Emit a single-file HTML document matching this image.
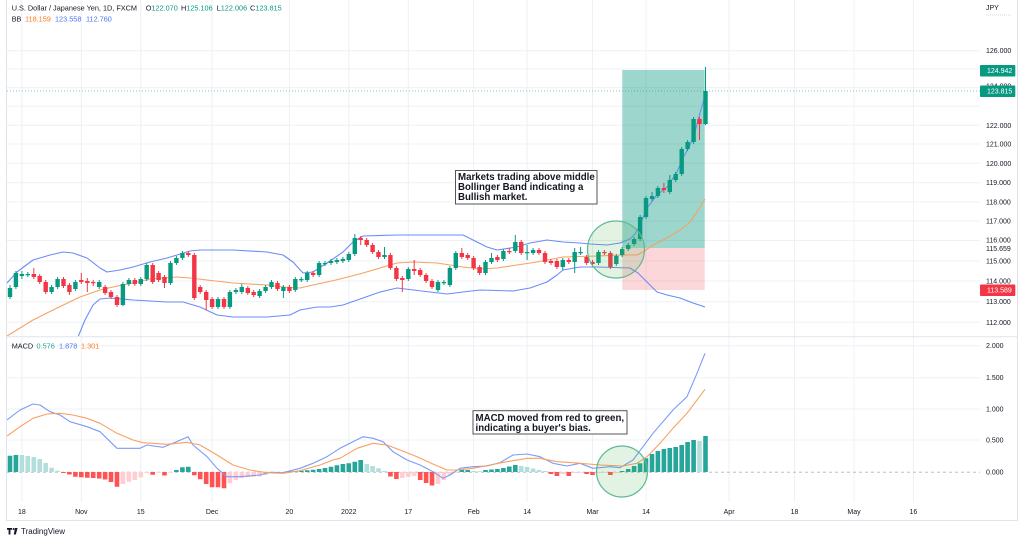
<!DOCTYPE html>
<html><head><meta charset="utf-8"><style>
html,body{margin:0;padding:0;background:#fff;}
svg{display:block;}
text{font-family:"Liberation Sans",sans-serif;}
</style></head><body>
<svg width="1024" height="542" viewBox="0 0 1024 542" xmlns="http://www.w3.org/2000/svg">
<rect x="0" y="0" width="1024" height="542" fill="#fff"/>
<defs>
<clipPath id="pp"><rect x="7" y="0" width="973" height="336"/></clipPath>
<clipPath id="mp"><rect x="7" y="337" width="973" height="165"/></clipPath>
</defs>
<!-- grid -->
<g stroke="#eef0f5" stroke-width="1" fill="none">
<path d="M21.9 0V502M81.3 0V502M140.8 0V502M212.1 0V502M289.4 0V502M348.8 0V502M408.3 0V502M473.6 0V502M527.1 0V502M592.5 0V502M646 0V502M729.1 0V502M794.5 0V502M854 0V502M913.4 0V502"/>
<path d="M7 50.7H980M7 69H980M7 87.6H980M7 106.3H980M7 125.3H980M7 144H980M7 163.3H980M7 182.7H980M7 202H980M7 221H980M7 240.5H980M7 261H980M7 281H980M7 301.7H980M7 322.3H980"/>
<path d="M7 345.7H980M7 377.7H980M7 409H980M7 440H980"/>
</g>
<!-- frame -->
<g stroke="#e0e3eb" stroke-width="1" fill="none">
<path d="M6.5 0V520.5M1017.5 0V520.5M6 520.5H1018M6 336.8H1018"/>
</g>
<!-- zero line -->
<path d="M7 472.2H980" stroke="#b2b5be" stroke-width="0.8" stroke-dasharray="3 3"/>
<!-- current price dotted line -->
<path d="M7 91H980" stroke="#26a69a" stroke-width="0.8" stroke-dasharray="1 2" opacity="0.8"/>

<!-- long position tool -->
<rect x="622.3" y="70" width="82.4" height="178" fill="rgba(8,153,129,0.4)"/>
<rect x="622.3" y="248" width="82.4" height="42" fill="rgba(242,54,69,0.2)"/>

<g clip-path="url(#pp)" fill="none" stroke-linejoin="round">
<polyline stroke="#6b8cf6" stroke-width="1.1" points="7,283 17,272 33,260 50,255 63,252 73,253 87,258 100,268 107,272 120,270 133,267 150,262 167,258 177,255 190,251 200,250 233,250 267,252 283,255 293,262 303,273 313,272 327,263 343,252 353,242 363,236 397,235 430,235 463,235 473,240 487,247 497,250 517,247 530,243 547,240 563,242 580,243 590,244 607,245 620,243 630,239 635,234 640,225 647,208 657,195 667,187 677,172 683,158 690,145 695,132 700,113 705,96"/>
<polyline stroke="#6b8cf6" stroke-width="1.1" points="78,337 85,320 93,305 100,299 110,298 133,300 167,302 183,302 200,307 217,315 233,317 267,317 290,315 300,310 317,307 330,307 343,305 363,298 380,292 397,288 430,292 447,294 463,292 480,290 513,291 530,288 547,282 557,275 563,270 580,267 597,267 630,268 638,273 647,282 657,292 667,295 680,298 693,303 705,307"/>
<polyline stroke="#f7a162" stroke-width="1.1" points="7,336 33,320 57,308 80,297 100,290 113,287 133,283 150,279 177,277 190,278 207,280 233,283 267,285 283,287 300,288 313,285 327,282 340,279 363,273 397,263 413,262 437,263 463,267 480,269 497,268 517,265 537,262 563,257 597,256 623,255 637,255 643,252 653,245 667,238 680,230 690,222 697,212 705,199"/>
</g>

<!-- candles wicks -->
<path stroke="#089981" stroke-width="1" fill="none" d="M10 285V299M15.9 271V289M21.9 271V279M27.8 272V277M51.6 285V294M57.6 277V289M75.4 280V291M99.2 280V289M122.9 282V306M128.9 278V286M140.8 277V286M146.7 263V281M170.5 261V285M176.4 256V265M182.4 251V260M218 297V309M229.9 290V309M235.9 288V294M241.8 284V294M259.6 289V298M265.6 285V293M271.5 280V289M283.4 285V298M295.3 277V292M301.3 277V282M307.2 271V282M319.1 261V277M325 261V266M331 259V265M336.9 258V264M342.9 257V263M348.8 252V262M354.8 234V256M384.5 247V259M408.3 267V281M438 280V292M443.9 280V285M449.9 266V287M455.8 251V270M485.5 260V275M491.5 253V264M503.4 249V261M515.3 235V253M527.1 245V260M533.1 248V255M562.8 258V270M574.7 248V273M580.6 247V255M598.5 250V265M616.3 254V266M622.2 247V257M628.2 243V251M634.1 237V246M640.1 215V241M646 196V219M652 192V201M657.9 186V198M669.8 175V194M675.7 172V182M681.7 147V176M687.6 140V151M693.6 117V144M705.5 67V125"/>
<path stroke="#f23645" stroke-width="1" fill="none" d="M33.8 268V279M39.7 274V284M45.7 280V294M63.5 277V288M69.4 283V295M81.3 273V284M87.3 278V292M93.2 280V286M105.1 285V295M111 290V299M117 295V307M134.8 278V286M152.7 263V284M158.6 271V282M164.5 275V288M188.3 251V257M194.3 253V300M200.2 285V294M206.2 290V310M212.1 297V309M224 297V309M247.8 286V295M253.7 290V297M277.5 281V291M289.4 285V293M313.1 271V277M360.7 236V245M366.7 238V247M372.6 243V254M378.5 250V259M390.4 253V270M396.4 266V281M402.3 276V292M414.2 260V275M420.2 268V277M426.1 273V283M432 279V289M461.8 248V259M467.7 253V260M473.6 256V270M479.6 265V275M497.4 255V262M509.3 248V254M521.2 240V255M539 248V255M545 251V264M550.9 259V265M556.9 259V269M568.8 258V264M586.6 255V265M592.5 260V266M604.4 250V255M610.4 251V269M663.9 183V193M699.5 117V140"/>
<!-- candle bodies -->
<path fill="#089981" d="M7.8 288h4.4v9h-4.4zM13.7 273h4.4v14h-4.4zM19.7 274h4.4v2h-4.4zM25.6 274h4.4v1.2h-4.4zM49.4 287h4.4v5h-4.4zM55.4 279h4.4v8h-4.4zM73.2 282h4.4v7h-4.4zM97 282h4.4v5h-4.4zM120.7 284h4.4v21h-4.4zM126.7 280h4.4v4h-4.4zM138.6 279h4.4v5h-4.4zM144.5 265h4.4v14h-4.4zM168.3 263h4.4v20h-4.4zM174.2 258h4.4v5h-4.4zM180.2 253h4.4v5h-4.4zM215.8 299h4.4v8h-4.4zM227.7 292h4.4v15h-4.4zM233.7 290h4.4v2h-4.4zM239.6 287h4.4v5h-4.4zM257.4 291h4.4v5h-4.4zM263.4 287h4.4v4h-4.4zM269.3 282h4.4v5h-4.4zM281.2 287h4.4v4h-4.4zM293.1 279h4.4v11h-4.4zM299.1 279h4.4v1.2h-4.4zM305 273h4.4v7h-4.4zM316.9 263h4.4v12h-4.4zM322.8 263h4.4v1.2h-4.4zM328.8 261h4.4v2h-4.4zM334.7 260h4.4v2h-4.4zM340.7 259h4.4v2h-4.4zM346.6 254h4.4v6h-4.4zM352.6 238h4.4v16h-4.4zM382.3 255h4.4v2h-4.4zM406.1 269h4.4v10h-4.4zM435.8 282h4.4v8h-4.4zM441.7 282h4.4v1.2h-4.4zM447.7 268h4.4v17h-4.4zM453.6 253h4.4v15h-4.4zM483.3 262h4.4v11h-4.4zM489.3 258h4.4v4h-4.4zM501.2 251h4.4v8h-4.4zM513.1 242h4.4v9h-4.4zM524.9 252h4.4v1.2h-4.4zM530.9 250h4.4v3h-4.4zM560.6 260h4.4v7h-4.4zM572.5 252h4.4v10h-4.4zM578.4 252h4.4v1.2h-4.4zM596.3 252h4.4v11h-4.4zM614.1 256h4.4v8h-4.4zM620 249h4.4v6h-4.4zM626 245h4.4v4h-4.4zM631.9 239h4.4v5h-4.4zM637.9 217h4.4v22h-4.4zM643.8 198h4.4v19h-4.4zM649.8 196h4.4v3h-4.4zM655.7 188h4.4v8h-4.4zM667.6 180h4.4v12h-4.4zM673.5 174h4.4v6h-4.4zM679.5 149h4.4v25h-4.4zM685.4 142h4.4v7h-4.4zM691.4 119h4.4v23h-4.4zM703.3 91h4.4v33h-4.4z"/>
<path fill="#f23645" d="M31.6 274h4.4v3h-4.4zM37.5 276h4.4v6h-4.4zM43.5 282h4.4v10h-4.4zM61.3 279h4.4v7h-4.4zM67.2 285h4.4v7h-4.4zM79.1 280h4.4v2h-4.4zM85.1 281h4.4v2h-4.4zM91 282h4.4v1.2h-4.4zM102.9 287h4.4v6h-4.4zM108.8 292h4.4v5h-4.4zM114.8 297h4.4v8h-4.4zM132.6 280h4.4v4h-4.4zM150.5 265h4.4v17h-4.4zM156.4 273h4.4v7h-4.4zM162.3 277h4.4v6h-4.4zM186.1 253h4.4v2h-4.4zM192.1 255h4.4v43h-4.4zM198 287h4.4v5h-4.4zM204 292h4.4v8h-4.4zM209.9 299h4.4v8h-4.4zM221.8 299h4.4v8h-4.4zM245.6 288h4.4v5h-4.4zM251.5 292h4.4v3h-4.4zM275.3 283h4.4v6h-4.4zM287.2 287h4.4v4h-4.4zM310.9 273h4.4v2h-4.4zM358.5 238h4.4v2h-4.4zM364.5 240h4.4v5h-4.4zM370.4 245h4.4v7h-4.4zM376.3 252h4.4v5h-4.4zM388.2 255h4.4v13h-4.4zM394.2 268h4.4v11h-4.4zM400.1 278h4.4v2h-4.4zM412 269h4.4v2h-4.4zM418 270h4.4v5h-4.4zM423.9 275h4.4v6h-4.4zM429.8 281h4.4v6h-4.4zM459.6 253h4.4v4h-4.4zM465.5 255h4.4v3h-4.4zM471.4 258h4.4v10h-4.4zM477.4 267h4.4v6h-4.4zM495.2 257h4.4v3h-4.4zM507.1 251h4.4v1.2h-4.4zM519 242h4.4v11h-4.4zM536.8 250h4.4v3h-4.4zM542.8 253h4.4v9h-4.4zM548.7 261h4.4v2h-4.4zM554.7 261h4.4v6h-4.4zM566.6 260h4.4v2h-4.4zM584.4 257h4.4v6h-4.4zM590.3 262h4.4v2h-4.4zM602.2 252h4.4v1.2h-4.4zM608.2 253h4.4v14h-4.4zM661.7 188h4.4v2h-4.4zM697.3 119h4.4v5h-4.4z"/>

<!-- price circle -->
<circle cx="616" cy="249.5" r="28.5" fill="rgba(76,175,80,0.16)" stroke="#5fb894" stroke-width="1.2"/>

<!-- MACD histogram -->
<g clip-path="url(#mp)">
<path fill="#26a69a" d="M7.7 455.7h4.6v16.3h-4.6zM13.6 455h4.6v17h-4.6zM174.1 470h4.6v2h-4.6zM180.1 467.3h4.6v4.7h-4.6zM186 466.7h4.6v5.3h-4.6zM287.1 471h4.6v1h-4.6zM293 471h4.6v1h-4.6zM299 470.8h4.6v1.2h-4.6zM304.9 470.3h4.6v1.7h-4.6zM310.8 469.8h4.6v2.2h-4.6zM316.8 469h4.6v3h-4.6zM322.7 468h4.6v4h-4.6zM328.7 466.7h4.6v5.3h-4.6zM334.6 465.3h4.6v6.7h-4.6zM340.6 464h4.6v8h-4.6zM346.5 463.3h4.6v8.7h-4.6zM352.5 461.7h4.6v10.3h-4.6zM358.4 460h4.6v12h-4.6zM459.5 470h4.6v2h-4.6zM465.4 470h4.6v2h-4.6zM483.2 470h4.6v2h-4.6zM489.2 469.5h4.6v2.5h-4.6zM495.1 469h4.6v3h-4.6zM501.1 468h4.6v4h-4.6zM507 466.5h4.6v5.5h-4.6zM513 465h4.6v7h-4.6zM619.9 471h4.6v1h-4.6zM625.9 469h4.6v3h-4.6zM631.8 466h4.6v6h-4.6zM637.8 463.3h4.6v8.7h-4.6zM643.7 458.3h4.6v13.7h-4.6zM649.7 454h4.6v18h-4.6zM655.6 451h4.6v21h-4.6zM661.6 449h4.6v23h-4.6zM667.5 448h4.6v24h-4.6zM673.4 447h4.6v25h-4.6zM679.4 445h4.6v27h-4.6zM685.3 442h4.6v30h-4.6zM691.3 440h4.6v32h-4.6zM703.2 436h4.6v36h-4.6z"/>
<path fill="#b2dfdb" d="M19.6 455h4.6v17h-4.6zM25.5 456h4.6v16h-4.6zM31.5 457h4.6v15h-4.6zM37.4 459h4.6v13h-4.6zM43.4 463h4.6v9h-4.6zM49.3 467.7h4.6v4.3h-4.6zM55.3 470.7h4.6v1.3h-4.6zM364.4 464h4.6v8h-4.6zM370.3 466h4.6v6h-4.6zM376.2 468.3h4.6v3.7h-4.6zM382.2 471h4.6v1h-4.6zM471.3 471h4.6v1h-4.6zM477.3 471.3h4.6v0.7h-4.6zM518.9 466h4.6v6h-4.6zM524.8 467h4.6v5h-4.6zM530.8 468.5h4.6v3.5h-4.6zM536.7 470h4.6v2h-4.6zM542.7 471h4.6v1h-4.6zM697.2 441h4.6v31h-4.6z"/>
<path fill="#ff5252" d="M61.2 472h4.6v1h-4.6zM67.1 472h4.6v2.5h-4.6zM73.1 472h4.6v4.7h-4.6zM79 472h4.6v5.3h-4.6zM85 472h4.6v5.7h-4.6zM90.9 472h4.6v6h-4.6zM96.9 472h4.6v6.5h-4.6zM102.8 472h4.6v7.5h-4.6zM108.7 472h4.6v10h-4.6zM114.7 472h4.6v14.7h-4.6zM150.4 472h4.6v2.7h-4.6zM162.2 472h4.6v3.5h-4.6zM192 472h4.6v3.3h-4.6zM197.9 472h4.6v7.3h-4.6zM203.9 472h4.6v12h-4.6zM209.8 472h4.6v15.3h-4.6zM215.7 472h4.6v15.3h-4.6zM221.7 472h4.6v16.3h-4.6zM388.1 472h4.6v4.5h-4.6zM394.1 472h4.6v7h-4.6zM417.9 472h4.6v8h-4.6zM423.8 472h4.6v11h-4.6zM429.7 472h4.6v13.5h-4.6zM548.6 472h4.6v2h-4.6zM554.6 472h4.6v4h-4.6zM566.5 472h4.6v4h-4.6zM584.3 472h4.6v2h-4.6zM590.2 472h4.6v3h-4.6zM608.1 472h4.6v3h-4.6z"/>
<path fill="#ffcdd2" d="M120.6 472h4.6v12h-4.6zM126.6 472h4.6v9.7h-4.6zM132.5 472h4.6v8h-4.6zM138.5 472h4.6v5.3h-4.6zM144.4 472h4.6v1h-4.6zM156.3 472h4.6v0.8h-4.6zM168.2 472h4.6v0.8h-4.6zM227.6 472h4.6v11.3h-4.6zM233.6 472h4.6v8h-4.6zM239.5 472h4.6v6.3h-4.6zM245.5 472h4.6v5.3h-4.6zM251.4 472h4.6v4.7h-4.6zM257.3 472h4.6v4.5h-4.6zM263.3 472h4.6v3h-4.6zM269.2 472h4.6v1.5h-4.6zM275.2 472h4.6v0.8h-4.6zM400 472h4.6v6h-4.6zM406 472h4.6v5h-4.6zM411.9 472h4.6v4h-4.6zM435.7 472h4.6v12h-4.6zM441.6 472h4.6v8h-4.6zM447.6 472h4.6v3h-4.6zM453.5 472h4.6v0.8h-4.6zM560.5 472h4.6v2h-4.6zM572.4 472h4.6v1h-4.6zM578.3 472h4.6v0.8h-4.6zM596.2 472h4.6v1h-4.6zM602.1 472h4.6v0.8h-4.6zM614 472h4.6v1h-4.6z"/>
<polyline fill="none" stroke="#7b9bf7" stroke-width="1.1" stroke-linejoin="round" points="7,420 20,410 33,404 40,405 50,411.7 60,415 70,421.7 87,426.7 100,431.7 117,448.3 127,448.3 140,448.3 147,445 163,447.3 173,443.3 188,436.7 193,445 207,456.7 217,468.3 227,476.7 240,476.7 260,475 270,472.3 283,472.7 300,468.3 313,463.3 327,456.7 340,448.3 353,441.7 363,436.7 373,438.3 383,441.7 393,451.7 407,460 420,465 433,471.7 443,478.3 450,475 460,468.3 473,466.7 487,466 500,462.7 513,455 527,454 540,456.7 553,463.3 567,466 580,463.3 593,468.3 610,466.7 620,467.7 633,460 643,446.7 653,433.3 673,410 687,396.7 697,373.3 705,353.3"/>
<polyline fill="none" stroke="#f9a062" stroke-width="1.1" stroke-linejoin="round" points="7,436 20,426.7 33,418.3 47,414 60,413.3 73,415 87,418.3 100,423.3 117,433.3 133,440 143,442.7 167,444.3 187,442.3 200,445 217,455 233,465 250,470 267,472.7 283,473.3 300,470.7 320,465 333,460 340,458.3 357,448.3 373,443.3 387,445 400,450 417,456.7 433,464 447,470 457,470 473,468.3 490,465 507,461.7 527,458.3 540,458.3 557,461.7 573,462.7 600,465 623,466 637,463.3 647,456.7 660,443.3 673,428.3 687,413.3 705,389.3"/>
</g>
<!-- MACD circle -->
<circle cx="622" cy="471.5" r="25.5" fill="rgba(76,175,80,0.16)" stroke="#5fb894" stroke-width="1.2"/>

<!-- annotations -->
<rect x="455.5" y="170.5" width="141.5" height="33.5" fill="#fff" stroke="#555" stroke-width="1"/>
<text font-size="9.7" font-weight="bold" fill="#131722"><tspan x="458" y="180.2">Markets trading above middle</tspan><tspan x="458" y="190.2">Bollinger Band indicating a</tspan><tspan x="458" y="200.2">Bullish market.</tspan></text>
<rect x="473" y="410.7" width="154" height="23.3" fill="#fff" stroke="#555" stroke-width="1"/>
<text font-size="9.7" font-weight="bold" fill="#131722"><tspan x="475.5" y="420.8">MACD moved from red to green,</tspan><tspan x="475.5" y="430.8">indicating a buyer's bias.</tspan></text>

<!-- header -->
<text font-size="7.3" fill="#131722" y="10.5"><tspan x="11.7">U.S. Dollar / Japanese Yen, 1D, FXCM</tspan><tspan x="145.7">O</tspan><tspan fill="#089981">122.070</tspan><tspan x="181">H</tspan><tspan fill="#089981">125.106</tspan><tspan x="216.7">L</tspan><tspan fill="#089981">122.006</tspan><tspan x="250">C</tspan><tspan fill="#089981">123.815</tspan></text>
<text font-size="7.3" fill="#131722" y="21.5"><tspan x="11.7">BB</tspan><tspan x="25" fill="#ff7a1a">118.159</tspan><tspan x="55" fill="#4a74f5">123.558</tspan><tspan x="86" fill="#4a74f5">112.760</tspan></text>
<text font-size="7.3" fill="#131722" y="348.7"><tspan x="11.7">MACD</tspan><tspan x="36.5" fill="#26a69a">0.576</tspan><tspan x="59" fill="#4a74f5">1.878</tspan><tspan x="81" fill="#ff7a1a">1.301</tspan></text>

<!-- price axis -->
<g font-size="7" fill="#131722">
<text x="986" y="10">JPY</text>
<text x="986" y="53.2">126.000</text>
<text x="986" y="88.5">124.000</text>
<text x="986" y="127.8">122.000</text>
<text x="986" y="146.5">121.000</text>
<text x="986" y="165.8">120.000</text>
<text x="986" y="185.2">119.000</text>
<text x="986" y="204.5">118.000</text>
<text x="986" y="223.5">117.000</text>
<text x="986" y="242.5">116.000</text>
<text x="986" y="263.5">115.000</text>
<text x="986" y="283.5">114.000</text>
<text x="986" y="304.2">113.000</text>
<text x="986" y="324.8">112.000</text>
<text x="986" y="348.2">2.000</text>
<text x="986" y="380.2">1.500</text>
<text x="986" y="411.5">1.000</text>
<text x="986" y="442.5">0.500</text>
<text x="986" y="474.5">0.000</text>
</g>
<path d="M986 15H1012" stroke="#c8cad2" stroke-width="0.8" stroke-dasharray="1 1"/>
<rect x="982" y="243.5" width="34" height="10" fill="#fff"/>
<text x="986" y="251" font-size="7" fill="#131722">115.659</text>
<rect x="980" y="65" width="35.3" height="11.5" rx="1" fill="#089981"/>
<text x="987" y="73.2" font-size="7" fill="#fff">124.942</text>
<rect x="980" y="85.5" width="35.3" height="11.5" rx="1" fill="#089981"/>
<text x="987" y="93.7" font-size="7" fill="#fff">123.815</text>
<rect x="980" y="284.5" width="35.3" height="11.5" rx="1" fill="#f23645"/>
<text x="987" y="292.7" font-size="7" fill="#fff">113.589</text>

<!-- time axis -->
<g font-size="7" fill="#131722" text-anchor="middle">
<text x="21.9" y="514">18</text>
<text x="81.3" y="514">Nov</text>
<text x="140.8" y="514">15</text>
<text x="212.1" y="514">Dec</text>
<text x="289.4" y="514">20</text>
<text x="348.8" y="514">2022</text>
<text x="408.3" y="514">17</text>
<text x="473.6" y="514">Feb</text>
<text x="527.1" y="514">14</text>
<text x="592.5" y="514">Mar</text>
<text x="646" y="514">14</text>
<text x="729.1" y="514">Apr</text>
<text x="794.5" y="514">18</text>
<text x="854" y="514">May</text>
<text x="913.4" y="514">16</text>
</g>

<!-- TradingView logo -->
<g fill="#131722">
<path d="M7 528h5v1.8h-1.6v4.7h-1.8v-4.7H7z"/>
<circle cx="13.6" cy="529" r="1"/>
<path d="M15 528h2.6l-1.8 6.5h-2z"/>
</g>
<text x="21" y="534" font-size="8" fill="#131722">TradingView</text>
</svg>
</body></html>
